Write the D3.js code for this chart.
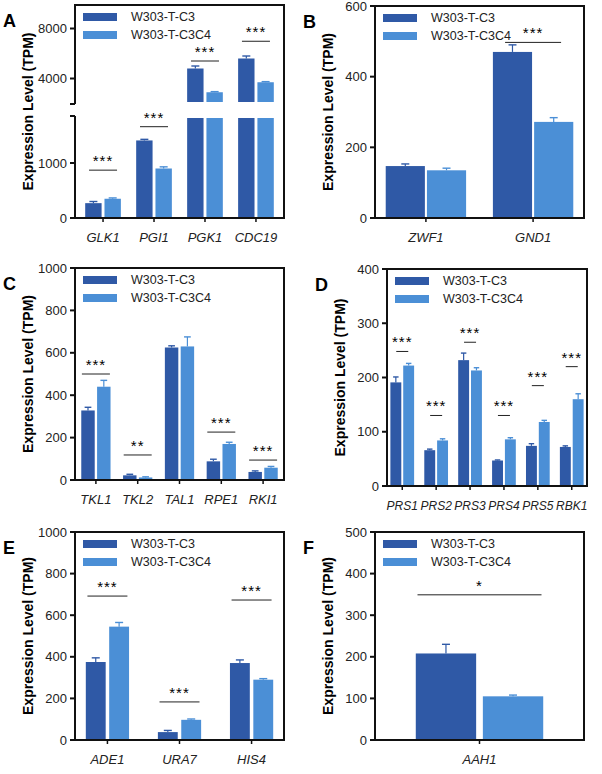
<!DOCTYPE html>
<html><head><meta charset="utf-8">
<script src="https://cdn.jsdelivr.net/npm/d3@7"></script>
<style>body{margin:0;background:#fff}text{font-family:"Liberation Sans",Arial,sans-serif}</style>
</head><body><svg id="fig" width="602" height="774"></svg>
<script>
var series = ["W303-T-C3", "W303-T-C3C4"];
var colors = ["#2f59a6", "#4b8fd6"];

var genesA = ["GLK1", "PGI1", "PGK1", "CDC19"];
var c3A = [270, 1410, 4800, 5600], c3errA = [30, 20, 200, 200];
var c4A = [350, 900, 2900, 3700], c4errA = [15, 30, 50, 50];
var sigA = ["***", "***", "***", "***"], sigLineA = [870, 1660, 5400, 6980];

var genesB = ["ZWF1", "GND1"];
var c3B = [147, 470], c3errB = [6, 20];
var c4B = [135, 272], c4errB = [6, 12];
var sigB = ["", "***"], sigLineB = [0, 497];

var genesC = ["TKL1", "TKL2", "TAL1", "RPE1", "RKI1"];
var c3C = [328, 22, 625, 88, 38], c3errC = [15, 5, 8, 10, 5];
var c4C = [440, 12, 630, 170, 58], c4errC = [30, 3, 45, 8, 6];
var sigC = ["***", "**", "", "***", "***"], sigLineC = [500, 118, 0, 226, 94];

var genesD = ["PRS1", "PRS2", "PRS3", "PRS4", "PRS5", "RBK1"];
var c3D = [191, 66, 232, 47, 74, 72], c3errD = [10, 2, 13, 1, 4, 2];
var c4D = [222, 84, 213, 86, 118, 160], c4errD = [4, 3, 5, 3, 3, 10];
var sigD = ["***", "***", "***", "***", "***", "***"], sigLineD = [248, 130, 265, 130, 185, 220];

var genesE = ["ADE1", "URA7", "HIS4"];
var c3E = [375, 38, 370], c3errE = [20, 8, 15];
var c4E = [545, 97, 290], c4errE = [20, 4, 5];
var sigE = ["***", "***", "***"], sigLineE = [692, 183, 673];

var genesF = ["AAH1"];
var c3F = [208], c3errF = [22];
var c4F = [105], c4errF = [3];
var sigF = ["*"], sigLineF = [349];

var svg = d3.select("#fig");

function panel(o) {
  var g = svg.append("g");
  var x = d3.scaleBand().domain(o.genes).range([o.x0, o.x1]).paddingInner(o.pin).paddingOuter(o.pout);
  var xs = d3.scaleBand().domain([0, 1]).range([0, x.bandwidth()]).paddingInner(o.gap || 0.15);
  var y = o.yfn;
  var rows = o.genes.map(function(gn, i) {
    return {g: gn, v: [o.c3[i], o.c4[i]], e: [o.e3[i], o.e4[i]], s: o.sig[i], l: o.line[i]};
  });
  rows.forEach(function(r) {
    [0, 1].forEach(function(k) {
      var bx = x(r.g) + xs(k), bw = xs.bandwidth();
      var top = y(r.v[k]), et = y(r.v[k] + r.e[k]), cw = Math.min(4, bw / 4);
      g.append("line").attr("x1", bx + bw / 2).attr("x2", bx + bw / 2).attr("y1", top).attr("y2", et)
        .attr("stroke", colors[k]).attr("stroke-width", 1.2);
      g.append("line").attr("x1", bx + bw / 2 - cw).attr("x2", bx + bw / 2 + cw).attr("y1", et).attr("y2", et)
        .attr("stroke", colors[k]).attr("stroke-width", 1.4);
      if (o.broken && r.v[k] > o.brkLo) {
        g.append("rect").attr("x", bx).attr("width", bw).attr("y", y(o.brkLo)).attr("height", o.base - y(o.brkLo)).attr("fill", colors[k]);
        g.append("rect").attr("x", bx).attr("width", bw).attr("y", top).attr("height", y(o.brkHi) - top).attr("fill", colors[k]);
      } else {
        g.append("rect").attr("x", bx).attr("width", bw).attr("y", top).attr("height", o.base - top).attr("fill", colors[k]);
      }
    });
    if (r.s) {
      var cx = x(r.g) + x.bandwidth() / 2, ly = y(r.l), hw = o.lineW || 14;
      g.append("line").attr("x1", cx - hw).attr("x2", cx + hw).attr("y1", ly).attr("y2", ly).attr("stroke", "#222").attr("stroke-width", 1);
      g.append("text").attr("x", cx).attr("y", ly - 4).attr("text-anchor", "middle").attr("font-size", 15)
        .attr("letter-spacing", 1).text(r.s);
    }
  });
  // frame
  g.append("rect").attr("x", o.x0).attr("y", o.top).attr("width", o.x1 - o.x0).attr("height", o.base - o.top)
    .attr("fill", "none").attr("stroke", "#111").attr("stroke-width", 2);
  if (o.broken) {
    g.append("rect").attr("x", o.x0 - 3).attr("y", y(o.brkHi) + 2).attr("width", 6).attr("height", y(o.brkLo) - y(o.brkHi) - 4).attr("fill", "#fff");
    [y(o.brkHi) + 2, y(o.brkLo) - 2].forEach(function(yy) {
      g.append("line").attr("x1", o.x0 - 5).attr("x2", o.x0).attr("y1", yy).attr("y2", yy).attr("stroke", "#111").attr("stroke-width", 2);
    });
  }
  // ticks
  o.ticks.forEach(function(t) {
    g.append("line").attr("x1", o.x0 - 5).attr("x2", o.x0).attr("y1", y(t)).attr("y2", y(t)).attr("stroke", "#111").attr("stroke-width", 2);
    g.append("text").attr("x", o.x0 - 8).attr("y", y(t)).attr("dy", "0.35em").attr("text-anchor", "end")
      .attr("font-size", 13).attr("fill", "#222").text(t);
  });
  rows.forEach(function(r) {
    var cx = x(r.g) + x.bandwidth() / 2;
    g.append("line").attr("x1", cx).attr("x2", cx).attr("y1", o.base).attr("y2", o.base + 4).attr("stroke", "#111").attr("stroke-width", 1.5);
    g.append("text").attr("x", cx).attr("y", o.base + 24).attr("text-anchor", "middle").attr("font-size", o.xfs || 13)
      .attr("font-style", "italic").attr("fill", "#222").text(r.g);
  });
  g.append("text").attr("transform", "translate(" + (o.x0 - 42) + "," + ((o.top + o.base) / 2) + ") rotate(-90)")
    .attr("text-anchor", "middle").attr("font-size", 14).attr("font-weight", "bold").text("Expression Level (TPM)");
  g.append("text").attr("x", o.x0 - 72).attr("y", o.top + 22).attr("font-size", 18).attr("font-weight", "bold").text(o.letter);
  // legend
  series.forEach(function(s, k) {
    var ly = o.top + 12 + k * 18;
    g.append("rect").attr("x", o.x0 + 8).attr("y", ly - 4).attr("width", 34).attr("height", 8).attr("fill", colors[k]);
    g.append("text").attr("x", o.x0 + 56).attr("y", ly).attr("dy", "0.35em").attr("font-size", 12.5).attr("fill", "#222").text(s);
  });
}

// panel A: broken axis
var yLo = d3.scaleLinear().domain([0, 1818]).range([218, 118]);
var yHi = d3.scaleLinear().domain([2120, 9880]).range([102, 5]);
panel({letter: "A", genes: genesA, c3: c3A, e3: c3errA, c4: c4A, e4: c4errA, sig: sigA, line: sigLineA,
  x0: 75, x1: 284, top: 5, base: 218, pin: 0.3, pout: 0.2, broken: true, brkLo: 1818, brkHi: 2120,
  yfn: function(v) { return v <= 1818 ? yLo(v) : yHi(Math.max(v, 2120)); }, ticks: [0, 1000, 4000, 8000]});

var yB = d3.scaleLinear().domain([0, 600]).range([218, 6]);
panel({letter: "B", genes: genesB, c3: c3B, e3: c3errB, c4: c4B, e4: c4errB, sig: sigB, line: sigLineB,
  x0: 375, x1: 584, top: 6, base: 218, pin: 0.25, pout: 0.1, gap: 0.05, lineW: 28, yfn: yB, ticks: [0, 200, 400, 600]});

var yC = d3.scaleLinear().domain([0, 1000]).range([480, 268]);
panel({letter: "C", genes: genesC, c3: c3C, e3: c3errC, c4: c4C, e4: c4errC, sig: sigC, line: sigLineC,
  x0: 75, x1: 284, top: 268, base: 480, pin: 0.3, pout: 0.15, yfn: yC, ticks: [0, 200, 400, 600, 800, 1000]});

var yD = d3.scaleLinear().domain([0, 400]).range([486, 269]);
panel({letter: "D", genes: genesD, c3: c3D, e3: c3errD, c4: c4D, e4: c4errD, sig: sigD, line: sigLineD,
  x0: 387, x1: 587, top: 269, base: 486, pin: 0.3, pout: 0.1, lineW: 6, xfs: 12, yfn: yD, ticks: [0, 100, 200, 300, 400]});

var yE = d3.scaleLinear().domain([0, 1000]).range([740, 532]);
panel({letter: "E", genes: genesE, c3: c3E, e3: c3errE, c4: c4E, e4: c4errE, sig: sigE, line: sigLineE,
  x0: 75, x1: 284, top: 532, base: 740, pin: 0.4, pout: 0.15, lineW: 20, yfn: yE, ticks: [0, 200, 400, 600, 800, 1000]});

var yF = d3.scaleLinear().domain([0, 500]).range([740, 532]);
panel({letter: "F", genes: genesF, c3: c3F, e3: c3errF, c4: c4F, e4: c4errF, sig: sigF, line: sigLineF,
  x0: 375, x1: 584, top: 532, base: 740, pin: 0, pout: 0.32, gap: 0.1, lineW: 62, yfn: yF, ticks: [0, 100, 200, 300, 400, 500]});
</script></body></html>
